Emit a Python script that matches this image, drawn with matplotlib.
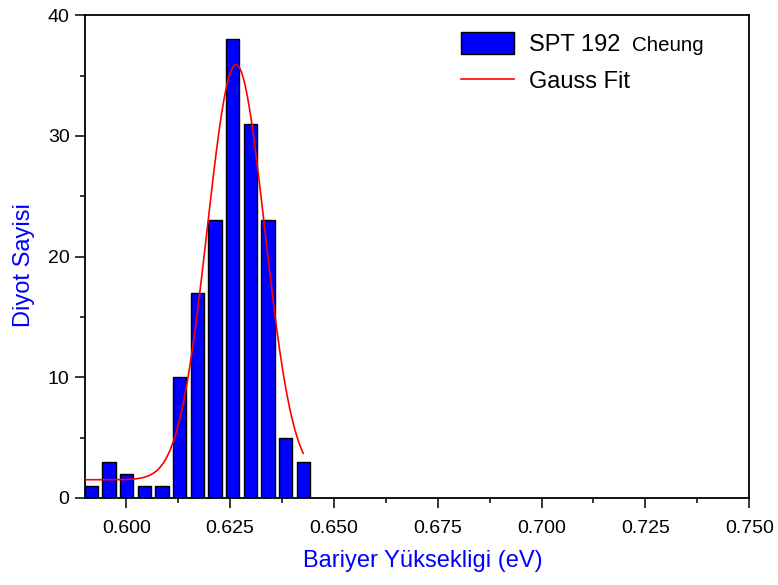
import numpy as np
import matplotlib
matplotlib.use('Agg')
import matplotlib.pyplot as plt
from matplotlib.ticker import MultipleLocator, FormatStrFormatter

# Histogram data (bar centres in eV, counts)
bin_start = 0.5916
bin_step = 0.00425
counts = [1, 3, 2, 1, 1, 10, 17, 23, 38, 31, 23, 5, 3]
centers = bin_start + bin_step * np.arange(len(counts))

# Gauss fit parameters
y0 = 1.5
amp = 34.4
xc = 0.6264
sigma = 0.0069
fit_from, fit_to = 0.5900, 0.6426

plt.rcParams['font.family'] = ['Liberation Sans', 'DejaVu Sans']

fig = plt.figure(figsize=(7.78, 5.85), dpi=100)
ax = fig.add_axes([0.109, 0.149, 0.854, 0.825])

bars = ax.bar(centers, counts, width=bin_step * 0.76, color='#0000FF',
              edgecolor='black', linewidth=1.0, label='SPT 192', zorder=2)

xf = np.linspace(fit_from, fit_to, 300)
yf = y0 + amp * np.exp(-(xf - xc) ** 2 / (2 * sigma ** 2))
line, = ax.plot(xf, yf, color='#FF0000', linewidth=1.2, label='Gauss Fit', zorder=3)

ax.set_xlim(0.59, 0.75)
ax.set_ylim(0, 40)
ax.xaxis.set_major_locator(MultipleLocator(0.025))
ax.xaxis.set_minor_locator(MultipleLocator(0.0125))
ax.xaxis.set_major_formatter(FormatStrFormatter('%.3f'))
ax.yaxis.set_major_locator(MultipleLocator(10))
ax.yaxis.set_minor_locator(MultipleLocator(5))
ax.tick_params(which='major', direction='out', length=7, width=1.1, labelsize=14)
ax.tick_params(which='minor', direction='out', length=3.5, width=1.1)
ax.tick_params(axis='x', which='major', pad=9)
ax.tick_params(axis='y', which='major', pad=4)
for s in ax.spines.values():
    s.set_linewidth(1.3)

ax.set_xlabel('Bariyer Yüksekligi (eV)', color='#0000FF', fontsize=17)
ax.set_ylabel('Diyot Sayisi', color='#0000FF', fontsize=17)
ax.xaxis.set_label_coords(0.508, -0.108)
ax.yaxis.set_label_coords(-0.075, 0.482)

leg = ax.legend([bars, line], ['SPT 192', 'Gauss Fit'], loc='upper left',
                bbox_to_anchor=(0.566, 0.965), frameon=False,
                fontsize=17, handlelength=2.25, handleheight=1.06,
                handletextpad=0.64, labelspacing=0.55, borderpad=0,
                borderaxespad=0)
ax.text(0.824, 0.926, 'Cheung', transform=ax.transAxes, fontsize=14.8,
        va='baseline', ha='left')

plt.savefig('out.png', dpi=100)
